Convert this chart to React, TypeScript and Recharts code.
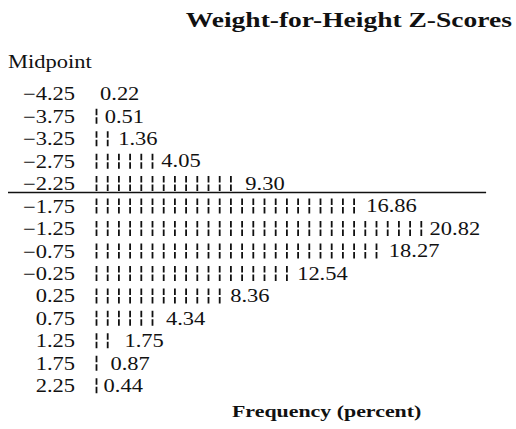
import React from 'react';
import { BarChart, Bar, XAxis, YAxis, LabelList, ReferenceLine } from 'recharts';

const midpoints = [-4.25, -3.75, -3.25, -2.75, -2.25, -1.75, -1.25, -0.75, -0.25, 0.25, 0.75, 1.25, 1.75, 2.25];
const frequencies = [0.22, 0.51, 1.36, 4.05, 9.3, 16.86, 20.82, 18.27, 12.54, 8.36, 4.34, 1.75, 0.87, 0.44];
const titleText = 'Weight-for-Height Z-Scores';
const yAxisTitle = 'Midpoint';
const xAxisTitle = 'Frequency (percent)';

const fmtMid = (m: number) => (m < 0 ? '\u2212' : '') + Math.abs(m).toFixed(2);
const data = midpoints.map((m, i) => ({ mid: fmtMid(m), freq: frequencies[i] }));

const FONT = '"Liberation Serif", "Times New Roman", serif';
const SX = 1.25;
const STEP = 0.7; // percent represented by one dash mark
const INK = '#111';

const DashBar = (props: any) => {
  const { x, y, width, height, payload } = props;
  const v = payload.freq;
  if (!v || width <= 0) return <g />;
  const px = (width / v) * STEP;
  const cy = y + height / 2;
  const lines = [];
  for (let k = 0; k * STEP + 0.375 <= v; k++) {
    const lx = x + k * px;
    lines.push(
      <line key={k} x1={lx} x2={lx} y1={cy - 7.5} y2={cy + 7.5} stroke={INK} strokeWidth={1.8} strokeDasharray="6.5 2 6.5" />
    );
  }
  return <g>{lines}</g>;
};

const ValueLabel = (props: any) => {
  const { x, y, width, height, value } = props;
  const cy = y + height / 2;
  return (
    <g transform={`translate(${x + width},${cy})`}>
      <text transform={`scale(${SX},1)`} dy="0.35em" fontSize={18} fill={INK} fontFamily={FONT}>
        {Number(value).toFixed(2)}
      </text>
    </g>
  );
};

const MidTick = (props: any) => {
  const { x, y, payload } = props;
  return (
    <g transform={`translate(${x},${y})`}>
      <text transform={`scale(${SX},1)`} textAnchor="end" dy="0.35em" fontSize={18} fill={INK} fontFamily={FONT}>
        {payload.value}
      </text>
    </g>
  );
};

// divider drawn across the whole figure, from the page margin to just past the longest bar
const Divider = (props: any) => {
  const { x1, x2, y1 } = props;
  const left = 8;
  const right = x1 + (x2 - x1) * 0.974;
  const y = y1 - 2.5;
  return <line x1={left} x2={right} y1={y} y2={y} stroke={INK} strokeWidth={1.5} />;
};

export default function App() {
  return (
    <div style={{ position: 'absolute', left: 0, top: 0, width: 516, height: 429, background: '#fff' }}>
      <BarChart
        width={516}
        height={429}
        data={data}
        layout="vertical"
        margin={{ top: 82.8, right: 19.5, bottom: 31.8, left: 0 }}
        barCategoryGap="20%"
      >
        <XAxis type="number" domain={[0, 25]} hide />
        <YAxis
          type="category"
          dataKey="mid"
          width={96.5}
          axisLine={false}
          tickLine={false}
          tickSize={0}
          tickMargin={21.5}
          tick={<MidTick />}
          interval={0}
        />
        <ReferenceLine y={fmtMid(-1.75)} position="start" ifOverflow="visible" stroke={INK} shape={Divider} />
        <Bar dataKey="freq" shape={DashBar} isAnimationActive={false}>
          <LabelList dataKey="freq" content={ValueLabel} />
        </Bar>
      </BarChart>
      <div style={{ position: 'absolute', right: 4, top: 9, fontFamily: FONT, fontWeight: 'bold', fontSize: 22, lineHeight: '22px', color: INK, whiteSpace: 'nowrap', transform: `scaleX(${SX})`, transformOrigin: 'right center' }}>
        {titleText}
      </div>
      <div style={{ position: 'absolute', left: 8, top: 53, fontFamily: FONT, fontSize: 18, lineHeight: '18px', color: INK, whiteSpace: 'nowrap', transform: `scaleX(${SX})`, transformOrigin: 'left center' }}>
        {yAxisTitle}
      </div>
      <div style={{ position: 'absolute', left: 232, top: 402, fontFamily: FONT, fontWeight: 'bold', fontSize: 17.5, lineHeight: '18px', color: INK, whiteSpace: 'nowrap', transform: `scaleX(${SX})`, transformOrigin: 'left center' }}>
        {xAxisTitle}
      </div>
    </div>
  );
}
